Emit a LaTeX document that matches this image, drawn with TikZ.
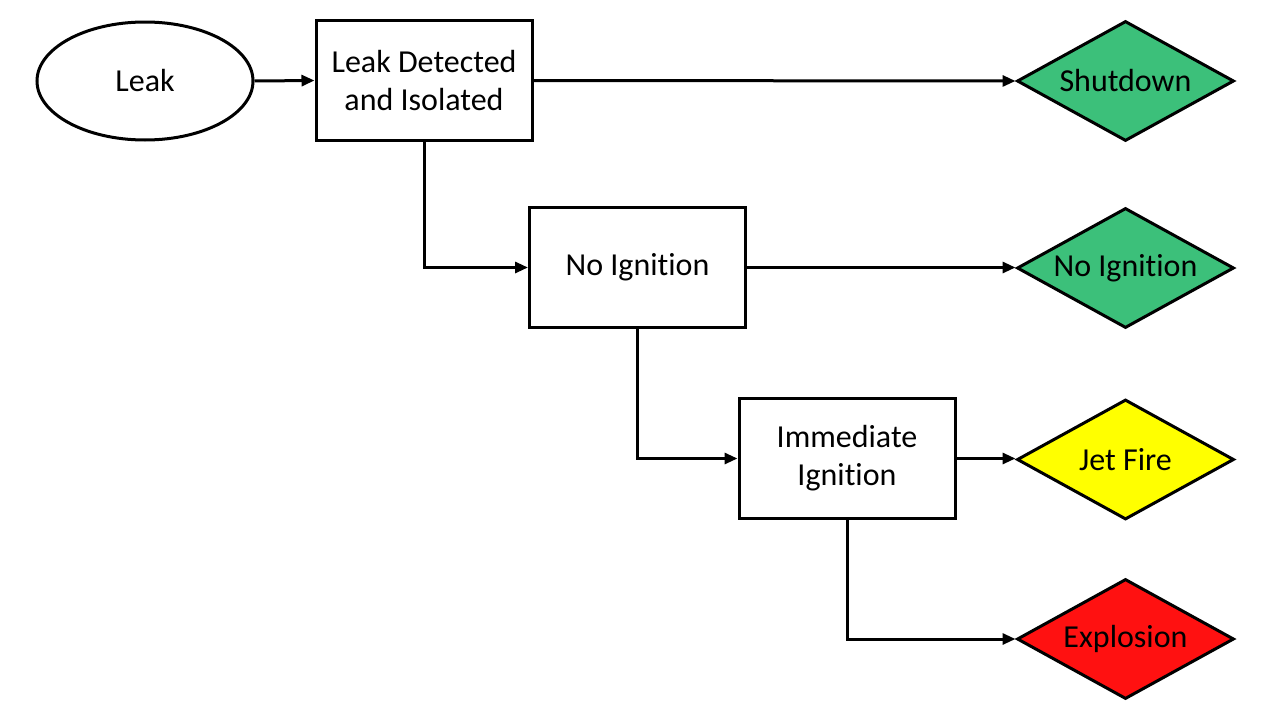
\documentclass[tikz,border=0pt]{standalone}
\usepackage{fontspec}
\setmainfont{Carlito}[Ligatures={NoCommon}]
\usetikzlibrary{shapes.geometric,arrows.meta}
\definecolor{okgreen}{RGB}{60,192,122}
\definecolor{jetyellow}{RGB}{255,255,0}
\definecolor{exred}{RGB}{255,17,17}
\begin{document}
\begin{tikzpicture}[x=1pt,y=-1pt,
  every node/.style={font=\fontsize{32}{38}\selectfont, align=center, inner sep=0pt},
  evbox/.style={draw=black, line width=3pt, fill=white, minimum width=216pt, minimum height=120pt},
  outcome/.style={draw=black, line width=3pt, diamond, aspect=1.8, minimum width=217pt, minimum height=120pt},
  conn/.style={line width=3pt, -{Triangle[length=13pt,width=11pt]}}
]
\useasboundingbox (0,0) rectangle (1280,720);
\node[draw=black, line width=3pt, ellipse, minimum width=216pt, minimum height=118pt] (leak) at (145,81) {Leak};
\node[evbox] (det) at (424,80.5) {Leak Detected\\and Isolated};
\node[evbox] (noig) at (637.5,267.5) {No Ignition};
\node[evbox] (imm) at (847,458.5) {Immediate\\Ignition};
\node[outcome, fill=okgreen] (shut) at (1125.5,81) {Shutdown};
\node[outcome, fill=okgreen] (noigo) at (1125.5,268) {No Ignition};
\node[outcome, fill=jetyellow] (jet) at (1125.5,459.5) {Jet Fire};
\node[outcome, fill=exred] (expl) at (1125.5,639) {Explosion};
\draw[conn] (leak.east) -- (det.west);
\draw[conn] (det.east) -- (shut.west);
\draw[conn] (det.south) |- (noig.west);
\draw[conn] (noig.east) -- (noig.east -| noigo.west);
\draw[conn] (noig.south) |- (imm.west);
\draw[conn] (imm.east) -- (imm.east -| jet.west);
\draw[conn] (imm.south) |- (expl.west);
\end{tikzpicture}
\end{document}
